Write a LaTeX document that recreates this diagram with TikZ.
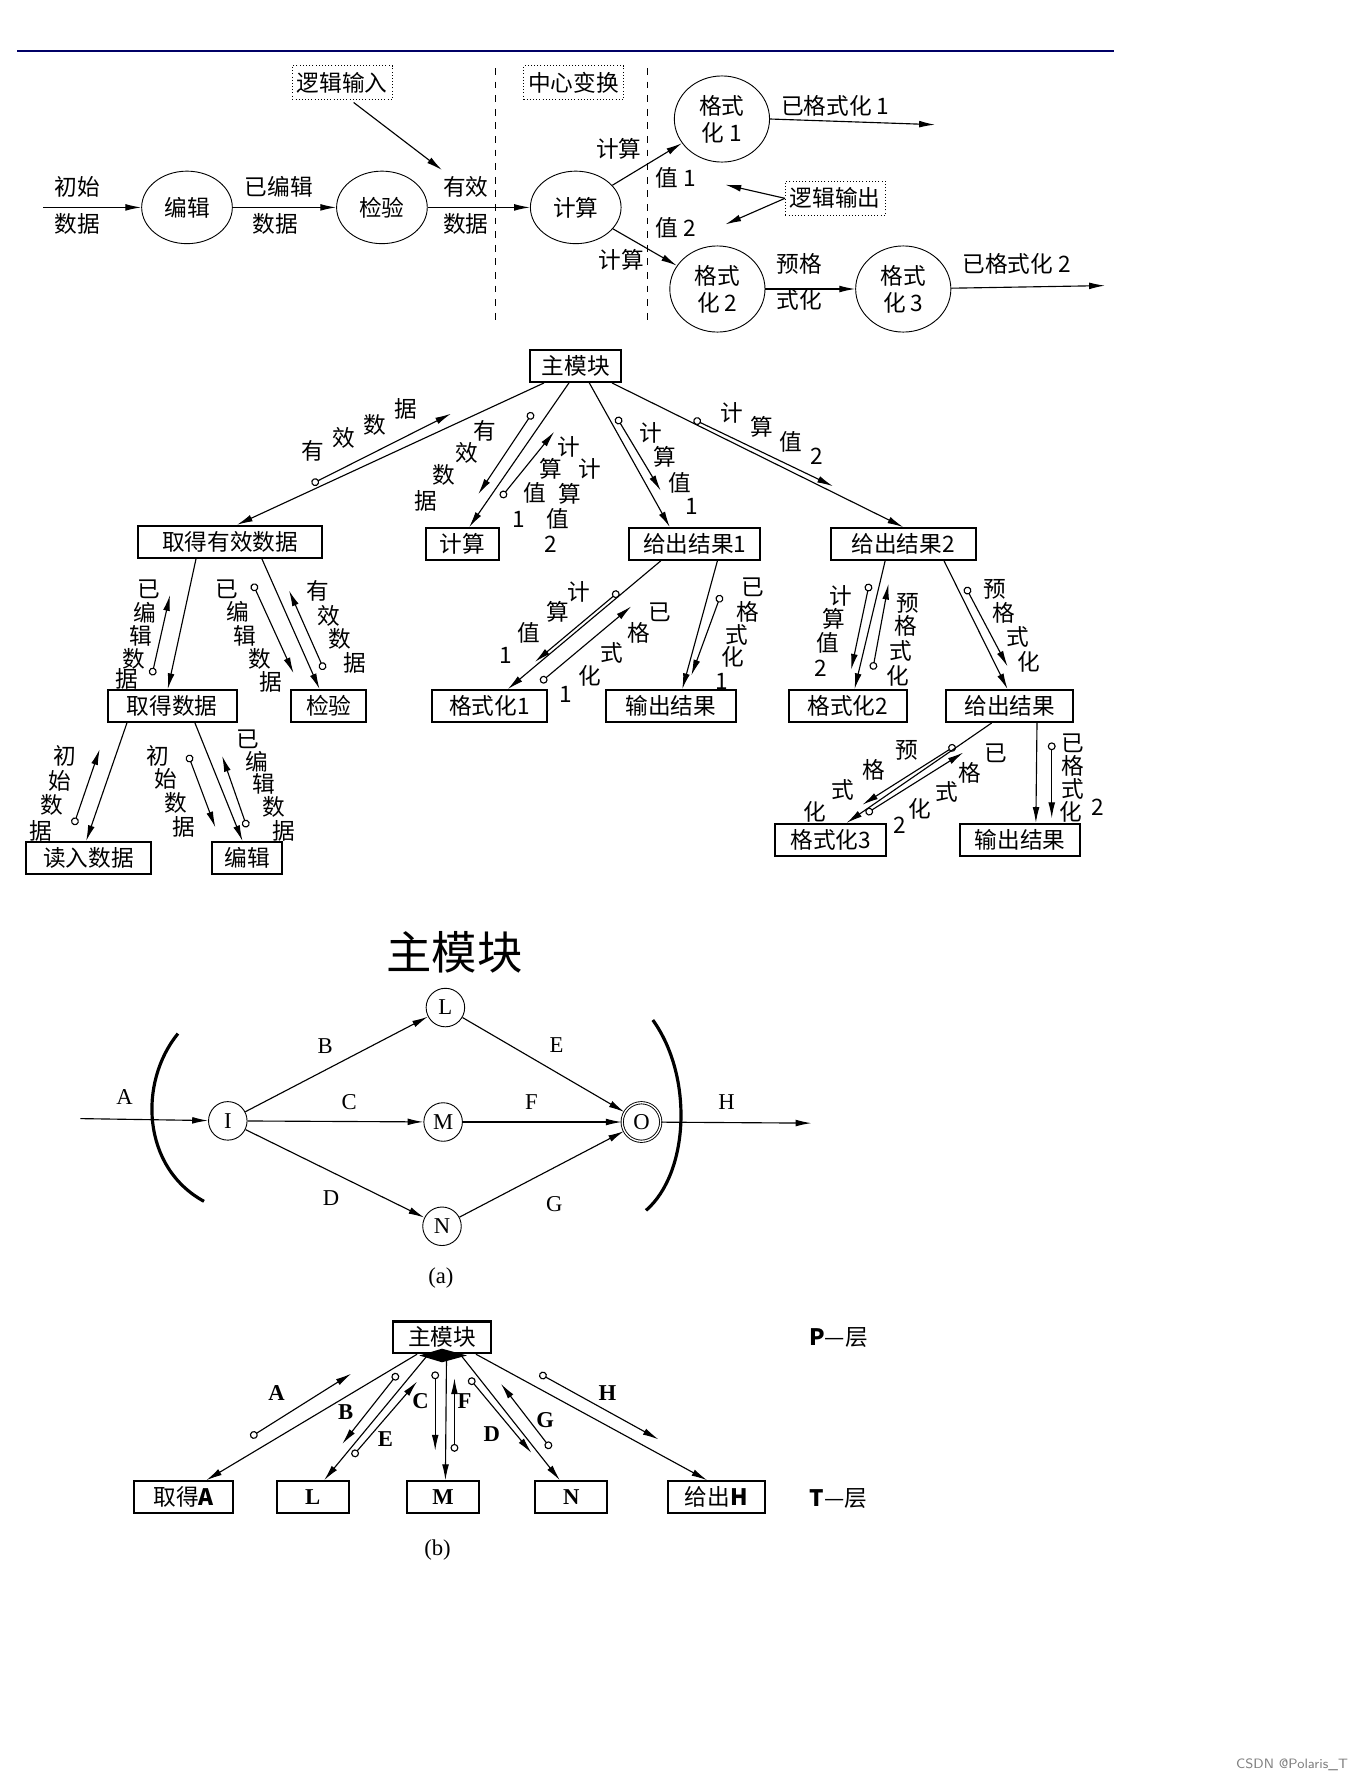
\documentclass[tikz,border=0pt]{standalone}
\usepackage{fontspec}
\setmainfont{Liberation Serif}
\newfontfamily\cjk{Noto Sans CJK SC}
\usetikzlibrary{arrows.meta,shapes.geometric}
\tikzset{
  box/.style={draw,line width=0.9pt,font=\cjk\fontsize{10}{12}\selectfont,inner sep=0pt,minimum height=14pt},
  ell/.style={draw,ellipse,font=\cjk\fontsize{10}{12}\selectfont,minimum width=40pt,minimum height=32pt,inner sep=0pt,align=center},
  dbox/.style={draw,densely dotted,font=\cjk\fontsize{10}{12}\selectfont,inner sep=2pt,minimum height=15pt},
  lab/.style={font=\cjk\fontsize{10}{12}\selectfont,inner sep=0pt},
  arr/.style={-{Latex[length=7pt,width=3pt]},line width=0.5pt},
  cp/.style={{Circle[open,length=3.5pt]}-{Latex[length=7pt,width=3pt]},line width=0.5pt},
  circ/.style={draw,circle,minimum size=17pt,inner sep=0pt,font=\fontsize{10}{12}\selectfont},
  ltr/.style={font=\fontsize{10}{12}\selectfont,inner sep=0pt},
  bl/.style={font=\bfseries\fontsize{10}{12}\selectfont,inner sep=0pt},
}
\begin{document}
\begin{tikzpicture}[x=0.5pt,y=-0.5pt]
\useasboundingbox (0,0) rectangle (1200,1575);
% ---------------- top data flow
\draw[line width=1.2pt,color=blue!40!black] (15,45) -- (983,45);
\node[dbox] (li) at (302,73) {逻辑输入};
\node[dbox] (zx) at (506,73) {中心变换};
\draw[dashed] (437,60) -- (437,282);
\draw[dashed] (571,60) -- (571,282);
\coordinate (st) at (38,183);
\node[ell] (bj) at (165,183) {编辑};
\node[ell] (jy) at (337,183) {检验};
\node[ell] (js) at (508,183) {计算};
\node[ell,minimum width=42pt,minimum height=38pt] (g1) at (637,105) {格式\\化 1};
\node[ell,minimum width=42pt,minimum height=38pt] (g2) at (633,255) {格式\\化 2};
\node[ell,minimum width=42pt,minimum height=38pt] (g3) at (797,255) {格式\\化 3};
\draw[arr] (st) -- (bj);
\draw[arr] (bj) -- (jy);
\draw[arr] (jy) -- (js);
\draw[arr] (js) -- (g1);
\draw[arr] (js) -- (g2);
\draw[arr] (g2) -- (g3);
\coordinate (e1) at (825,110);
\coordinate (e2) at (975,252);
\draw[arr] (g1.east) -- (e1);
\draw[arr] (g3) -- (e2);
\coordinate (lit) at (390,150);
\draw[arr] (li.south) ++(10,2) -- (lit);
\node[dbox] (lo) at (737,175) {逻辑输出};
\coordinate (v1) at (640,163);
\coordinate (v2) at (640,198);
\draw[arr] (lo.west) -- (v1);
\draw[arr] (lo.west) -- (v2);
\node[lab] at (68,165) {初始};
\node[lab] at (68,198) {数据};
\node[lab] at (246,165) {已编辑};
\node[lab] at (243,198) {数据};
\node[lab] at (411,165) {有效};
\node[lab] at (411,198) {数据};
\node[lab] at (546,131) {计算};
\node[lab] at (548,229) {计算};
\node[lab] at (596,157) {值 1};
\node[lab] at (596,201) {值 2};
\node[lab] at (737,93) {已格式化 1};
\node[lab] at (705,233) {预格};
\node[lab] at (705,265) {式化};
\node[lab] at (897,233) {已格式化 2};
% ---------------- structure chart
\node[box,minimum width=40pt] (mm) at (508,323) {主模块};
\node[box,minimum width=81pt] (qy) at (203,478) {取得有效数据};
\node[box,minimum width=32pt] (jc) at (408,480) {计算};
\node[box,minimum width=58pt] (r1) at (613,480) {给出结果1};
\node[box,minimum width=64pt] (r2) at (797,480) {给出结果2};
\node[box,minimum width=57pt] (qd) at (152,623) {取得数据};
\node[box,minimum width=33pt] (jv) at (290,623) {检验};
\node[box,minimum width=51pt] (f1) at (432,623) {格式化1};
\node[box,minimum width=57pt] (o1) at (592,623) {输出结果};
\node[box,minimum width=52pt] (f2) at (748,623) {格式化2};
\node[box,minimum width=56pt] (gr) at (891,623) {给出结果};
\node[box,minimum width=55pt] (rd) at (78,757) {读入数据};
\node[box,minimum width=31pt] (bb) at (218,757) {编辑};
\node[box,minimum width=49pt] (f3) at (733,741) {格式化3};
\node[box,minimum width=53pt] (o2) at (900,741) {输出结果};
\draw[arr] ([xshift=-14pt]mm.south) -- ([xshift=3pt]qy.north);
\draw[arr] ([xshift=-3pt]mm.south) -- ([xshift=3pt]jc.north);
\draw[arr] ([xshift=6pt]mm.south) -- ([xshift=-11pt]r1.north);
\draw[arr] ([xshift=16pt]mm.south) -- ([xshift=0pt]r2.north);
\draw[arr] ([xshift=-15pt]qy.south) -- ([xshift=-2pt]qd.north);
\draw[arr] ([xshift=14pt]qy.south) -- ([xshift=-4pt]jv.north);
\draw[arr] ([xshift=-20pt]qd.south) -- ([xshift=-1pt]rd.north);
\draw[arr] ([xshift=10pt]qd.south) -- ([xshift=-2pt]bb.north);
\draw[arr] ([xshift=-15pt]r1.south) -- ([xshift=8pt]f1.north);
\draw[arr] ([xshift=10pt]r1.south) -- ([xshift=5pt]o1.north);
\draw[arr] ([xshift=-8pt]r2.south) -- ([xshift=3pt]f2.north);
\draw[arr] ([xshift=18pt]r2.south) -- ([xshift=-1pt]gr.north);
\draw[arr] ([xshift=-8pt]gr.south) -- ([xshift=7pt]f3.north);
\draw[arr] ([xshift=12pt]gr.south) -- ([xshift=7pt]o2.north);
% couples
\draw[cp] (275,427) -- (398,365);
\draw[cp] (470,364) -- (422,436);
\draw[cp] (442,439) -- (489,381);
\draw[cp] (544,368) -- (583,433);
\draw[cp] (612,370) -- (735,429);
\draw[cp] (134,596) -- (150,525);
\draw[cp] (223,515) -- (259,594);
\draw[cp] (286,591) -- (255,521);
\draw[cp] (65,728) -- (88,661);
\draw[cp] (166,666) -- (190,730);
\draw[cp] (218,730) -- (196,667);
\draw[cp] (546,522) -- (472,584);
\draw[cp] (477,602) -- (557,535);
\draw[cp] (636,525) -- (610,596);
\draw[cp] (767,515) -- (751,591);
\draw[cp] (770,591) -- (784,515);
\draw[cp] (852,518) -- (889,588);
\draw[cp] (843,658) -- (761,710);
\draw[cp] (764,718) -- (850,664);
\draw[cp] (928,655) -- (928,722);
% labels
\foreach \t/\x/\y in {有/276/398,效/303/386,数/331/375,据/358/361,
  有/428/380,效/412/400,数/392/419,据/376/442,
  计/502/394,算/486/414,计/520/414,值/472/435,算/503/436,1/458/458,值/492/458,2/486/480,
  计/574/382,算/587/403,值/600/426,1/610/447,
  计/646/364,算/672/377,值/698/390,2/721/403,
  已/131/520,编/128/541,辑/124/561,数/118/581,据/112/599,
  已/200/520,编/210/540,辑/216/561,数/229/581,据/239/602,
  有/280/521,效/290/543,数/300/564,据/313/585,
  初/57/667,始/53/689,数/46/710,据/36/733,
  初/139/667,始/146/687,数/155/708,据/162/730,
  已/219/652,编/227/672,辑/233/692,数/242/712,据/250/733,
  计/511/522,算/492/540,值/467/558,1/446/578,
  已/582/540,格/564/558,式/540/576,化/520/596,1/499/613,
  已/664/518,格/660/540,式/650/560,化/647/580,1/637/601,
  计/742/526,算/736/546,值/730/567,2/724/590,
  预/801/532,格/799/552,式/795/574,化/792/596,
  预/878/520,格/886/541,式/898/562,化/908/584,
  预/800/662,格/771/679,式/744/697,化/719/716,
  已/879/665,格/856/682,式/835/699,化/812/714,2/794/728,
  已/947/656,格/947/676,式/947/696,化/945/716,2/969/712}
  \node[lab] at (\x,\y) {\t};
% ---------------- (a)
\node[font=\cjk\fontsize{20}{24}\selectfont] (hw) at (401,840) {主模块};
\node[circ] (L) at (393,889) {L};
\node[circ] (I) at (201,989) {I};
\node[circ] (M) at (391,990) {M};
\node[circ] (N) at (390,1082) {N};
\node[circ,double] (O) at (566,990) {O};
\coordinate (ai) at (71,987);
\coordinate (ho) at (716,991);
\draw[arr] (ai) -- (I);
\draw[arr] (I) -- (L);
\draw[arr] (I) -- (M);
\draw[arr] (I) -- (N);
\draw[arr] (L) -- (O);
\draw[arr] (M) -- (O);
\draw[arr] (N) -- (O);
\draw[arr] (O) -- (ho);
\draw[line width=1.4pt] (157,912) .. controls (122,955) and (125,1030) .. (180,1060);
\draw[line width=1.4pt] (576,900) .. controls (612,950) and (608,1035) .. (570,1068);
\node[ltr] at (110,968) {A};
\node[ltr] at (287,923) {B};
\node[ltr] at (308,972) {C};
\node[ltr] at (292,1057) {D};
\node[ltr] at (491,922) {E};
\node[ltr] at (469,972) {F};
\node[ltr] at (489,1062) {G};
\node[ltr] at (641,972) {H};
\node[ltr] at (389,1128) {(a)};
% ---------------- (b)
\node[box,minimum width=43pt] (pm) at (390,1180) {主模块};
\node[box,minimum width=44pt] (ba) at (162,1321) {取得\textbf{A}};
\node[box,minimum width=32pt,font=\bfseries] (bL) at (276,1321) {L};
\node[box,minimum width=32pt,font=\bfseries] (bM) at (391,1321) {M};
\node[box,minimum width=32pt,font=\bfseries] (bN) at (504,1321) {N};
\node[box,minimum width=43pt] (bH) at (632,1321) {给出\textbf{H}};
\node[font=\cjk\fontsize{10}{12}\selectfont] at (740,1180) {\textbf{P}—层};
\node[font=\cjk\fontsize{10}{12}\selectfont] at (740,1322) {\textbf{T}—层};
\node[ltr] at (386,1368) {(b)};
\fill (370,1196) -- (390,1190) -- (412,1196) -- (390,1202) -- cycle;
\draw[arr] ([xshift=-11pt]pm.south) -- ([xshift=10pt]ba.north);
\draw[arr] ([xshift=-6pt]pm.south) -- ([xshift=5pt]bL.north);
\draw[arr] ([xshift=2pt]pm.south) -- ([xshift=1pt]bM.north);
\draw[arr] ([xshift=8pt]pm.south) -- ([xshift=-5pt]bN.north);
\draw[arr] ([xshift=15pt]pm.south) -- ([xshift=-4pt]bH.north);
\draw[cp] (221,1268) -- (310,1212);
\draw[cp] (351,1212) -- (302,1274);
\draw[cp] (311,1285) -- (368,1219);
\draw[cp] (384,1210) -- (384,1280);
\draw[cp] (401,1281) -- (401,1216);
\draw[cp] (414,1216) -- (469,1282);
\draw[cp] (486,1278) -- (442,1221);
\draw[cp] (476,1212) -- (581,1270);
\node[bl] at (244,1229) {A};
\node[bl] at (305,1246) {B};
\node[bl] at (340,1270) {E};
\node[bl] at (371,1236) {C};
\node[bl] at (410,1236) {F};
\node[bl] at (434,1265) {D};
\node[bl] at (481,1253) {G};
\node[bl] at (536,1229) {H};
\node[font=\fontsize{6}{7}\selectfont\sffamily,text=gray] at (1140,1557) {CSDN @Polaris\_T};
\end{tikzpicture}
\end{document}
